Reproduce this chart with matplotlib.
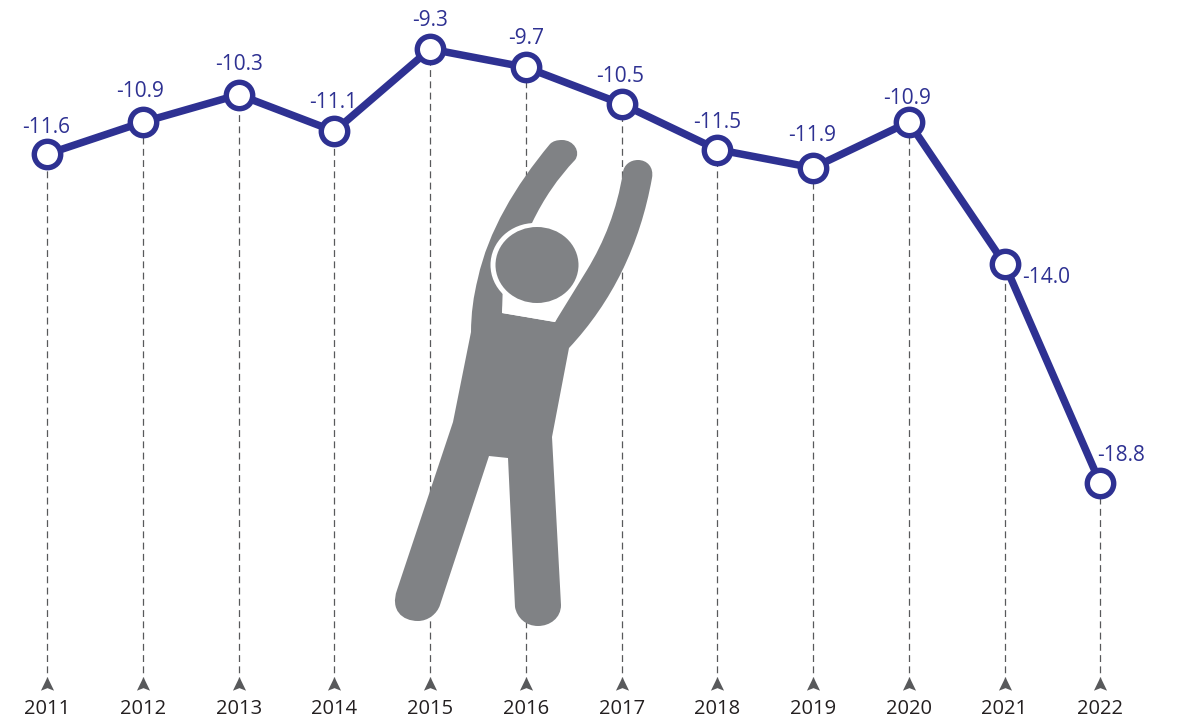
import matplotlib.pyplot as plt
from matplotlib.patches import PathPatch, Ellipse
from matplotlib.path import Path

plt.rcParams['font.family'] = ['Open Sans', 'DejaVu Sans']

years = [2011, 2012, 2013, 2014, 2015, 2016, 2017, 2018, 2019, 2020, 2021, 2022]
values = [-11.6, -10.9, -10.3, -11.1, -9.3, -9.7, -10.5, -11.5, -11.9, -10.9, -14.0, -18.8]
value_labels = ['-11.6', '-10.9', '-10.3', '-11.1', '-9.3', '-9.7', '-10.5', '-11.5', '-11.9', '-10.9', '-14.0', '-18.8']

BLUE = '#2e3192'
GREY = '#808285'
DASH = '#58595b'
INK = '#231f20'

W, H = 1180, 720
PX_PER_YEAR = 95.73
PX_PER_UNIT = 45.7
FLOOR = -23.2

fig = plt.figure(figsize=(W / 100, H / 100), dpi=100)
ax = fig.add_axes([0, 0, 1, 1])
ax.set_xlim(2011 - 47.2 / PX_PER_YEAR, 2011 + (W - 47.2) / PX_PER_YEAR)
ax.set_ylim(-9.3 - (H - 49) / PX_PER_UNIT, -9.3 + 49 / PX_PER_UNIT)
ax.axis('off')

# dashed drop lines and little arrow heads on the floor
arrow = Path([(0, 1), (0.9, -0.85), (0, -0.5), (-0.9, -0.85), (0, 1)],
             [Path.MOVETO, Path.LINETO, Path.LINETO, Path.LINETO, Path.CLOSEPOLY])
ax.vlines(years, FLOOR, values, colors=DASH, linewidth=0.9, linestyles=(0, (5.5, 3.5)), zorder=1)
ax.plot(years, [FLOOR] * len(years), ls='none', marker=arrow, ms=10.5, color=DASH, mew=0, zorder=2)

# pictogram, in pixel coordinates
pic = fig.add_axes([0, 0, 1, 1], zorder=2)
pic.set_xlim(0, W)
pic.set_ylim(H, 0)
pic.axis('off')
pic.patch.set_alpha(0)

M, L, C3, C4 = Path.MOVETO, Path.LINETO, Path.CURVE3, Path.CURVE4
body = [
    (M, (550, 144)),
    # left arm, outer edge
    (C4, (515, 186)), (C4, (488, 232)), (C4, (478, 278)),
    (C3, (471, 305)), (C3, (471, 332)),
    (L, (453, 422)), (L, (397, 590)),
    # left foot
    (C4, (390, 610)), (C4, (402, 621)), (C4, (418, 621)),
    (C4, (428, 621)), (C4, (437, 614)), (C4, (440, 605)),
    (L, (489, 456)), (L, (508, 458)), (L, (515, 607)),
    # right foot
    (C4, (517, 618)), (C4, (526, 626)), (C4, (538, 626)),
    (C4, (550, 626)), (C4, (561, 618)), (C4, (561, 605)),
    (L, (552, 437)), (L, (569, 348)),
    # right arm, outer edge and tip
    (C4, (612, 302)), (C4, (640, 245)), (C4, (652, 178)),
    (C4, (654, 167)), (C4, (647, 160)), (C4, (638, 160)),
    (C4, (630, 160)), (C4, (624, 165)), (C4, (623, 172)),
    # right arm, inner edge
    (C4, (617, 210)), (C4, (604, 242)), (C4, (587, 270)),
    (L, (555, 322)), (L, (502, 313)), (L, (504, 250)), (L, (532, 223)),
    # left arm, inner edge and tip
    (C4, (544, 198)), (C4, (558, 178)), (C4, (575, 160)),
    (C4, (581, 152)), (C4, (574, 140)), (C4, (562, 140)),
    (C4, (557, 140)), (C4, (553, 141)), (C4, (550, 144)),
]
codes = [b[0] for b in body]
verts = [b[1] for b in body]
pic.add_patch(PathPatch(Path(verts, codes), fc=GREY, ec='none', zorder=3))
pic.add_patch(Ellipse((535, 265), 89, 84, fc='white', ec='none', zorder=4))
neck = Path([(505, 290), (502, 313), (555, 322), (570, 290), (505, 290)], [M, L, L, L, Path.CLOSEPOLY])
pic.add_patch(PathPatch(neck, fc='white', ec='none', zorder=4))
pic.add_patch(Ellipse((537, 265), 83, 76, fc=GREY, ec='none', zorder=5))

# series on top of the figure
top = fig.add_axes([0, 0, 1, 1], zorder=3)
top.set_xlim(ax.get_xlim())
top.set_ylim(ax.get_ylim())
top.axis('off')
top.patch.set_alpha(0)
top.plot(years, values, color=BLUE, lw=5.4, marker='o', ms=19, mfc='white', mec=BLUE, mew=3.9,
         solid_joinstyle='miter', clip_on=False)

# label offsets from each point, in pixels
label_dx = [-1, -3, 0, -1, 0, 0, -1, 0, -1, -2, 42, 21]
label_dy = [27, 31, 30, 29, 29, 29, 27, 27, 32, 24, -14, 28]
for x, y, s, dx, dy in zip(years, values, value_labels, label_dx, label_dy):
    top.annotate(s, (x, y), xytext=(dx * 0.72, dy * 0.72), textcoords='offset points',
                 ha='center', va='center', color=BLUE, fontsize=15)

for x in years:
    top.annotate(str(x), (x, FLOOR), xytext=(0, -17.5), textcoords='offset points',
                 ha='center', va='center', color=INK, fontsize=14.5)

fig.savefig('out.png', dpi=100)
